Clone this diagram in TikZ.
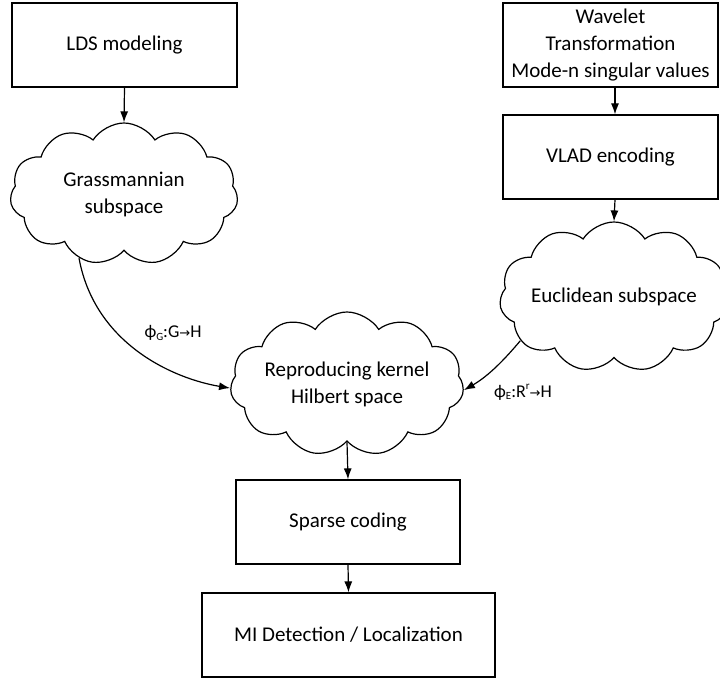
\documentclass[tikz,border=0pt]{standalone}
\usepackage{fontspec}
\setmainfont{Carlito}
\newfontfamily\dvsans{DejaVu Sans}
\usetikzlibrary{shapes.symbols,arrows.meta,calc}
\begin{document}
\begin{tikzpicture}[x=1pt,y=-1pt,
  every node/.style={font=\fontsize{21}{27}\selectfont},
  box/.style={draw,line width=1.2pt,rectangle,inner sep=0pt,align=center,minimum height=84pt},
  puff/.style={draw,line width=1.2pt,cloud,cloud puffs=11,cloud puff arc=115,cloud ignores aspect,inner sep=0pt,align=center},
  conn/.style={line width=1.2pt,-{Latex[length=11pt,width=8pt]}},
  lbl/.style={font=\fontsize{18}{20}\selectfont}]
\useasboundingbox (0,0) rectangle (720,682);
\node[box,minimum width=225pt] (lds) at (124.5,45) {LDS modeling};
\node[box,minimum width=215pt] (wav) at (610.5,45) {Wavelet\\Transformation\\Mode-n singular values};
\node[box,minimum width=215pt] (vlad) at (610.5,157) {VLAD encoding};
\node[puff,minimum width=228pt,minimum height=142pt] (grass) at (124,194) {Grassmannian\\subspace};
\node[puff,minimum width=228pt,minimum height=150pt] (eucl) at (614,297) {Euclidean subspace};
\node[puff,minimum width=228pt,minimum height=144pt] (rkhs) at (347,384) {Reproducing kernel\\Hilbert space};
\node[box,minimum width=224pt] (sparse) at (348,522) {Sparse coding};
\node[box,minimum width=293pt] (mi) at (348.5,635) {MI Detection / Localization};
\node[lbl] (lg) at (173,333) {ϕ\raisebox{-0.15em}{\fontsize{11}{11}\selectfont G}:G{\dvsans\fontsize{13}{13}\selectfont →}H};
\node[lbl] (le) at (523,392) {ϕ\raisebox{-0.15em}{\fontsize{11}{11}\selectfont E}:R\raisebox{0.45em}{\fontsize{11}{11}\selectfont r}{\dvsans\fontsize{13}{13}\selectfont →}H};
\draw[conn] (lds.south) -- (grass.north);
\draw[conn] ([xshift=4.5pt]wav.south) -- ([xshift=4.5pt]vlad.north);
\draw[conn] ([xshift=4.5pt]vlad.south) -- (eucl.north);
\draw[conn] (rkhs.south) -- (sparse.north);
\draw[conn] (sparse.south) -- (mi.north);
\draw[conn] (grass.235) .. controls (95,345) and (175,379) .. (rkhs.182);
\draw[conn] (eucl.205) .. controls (500,365) and (485,378) .. (rkhs.-3);
\end{tikzpicture}
\end{document}
